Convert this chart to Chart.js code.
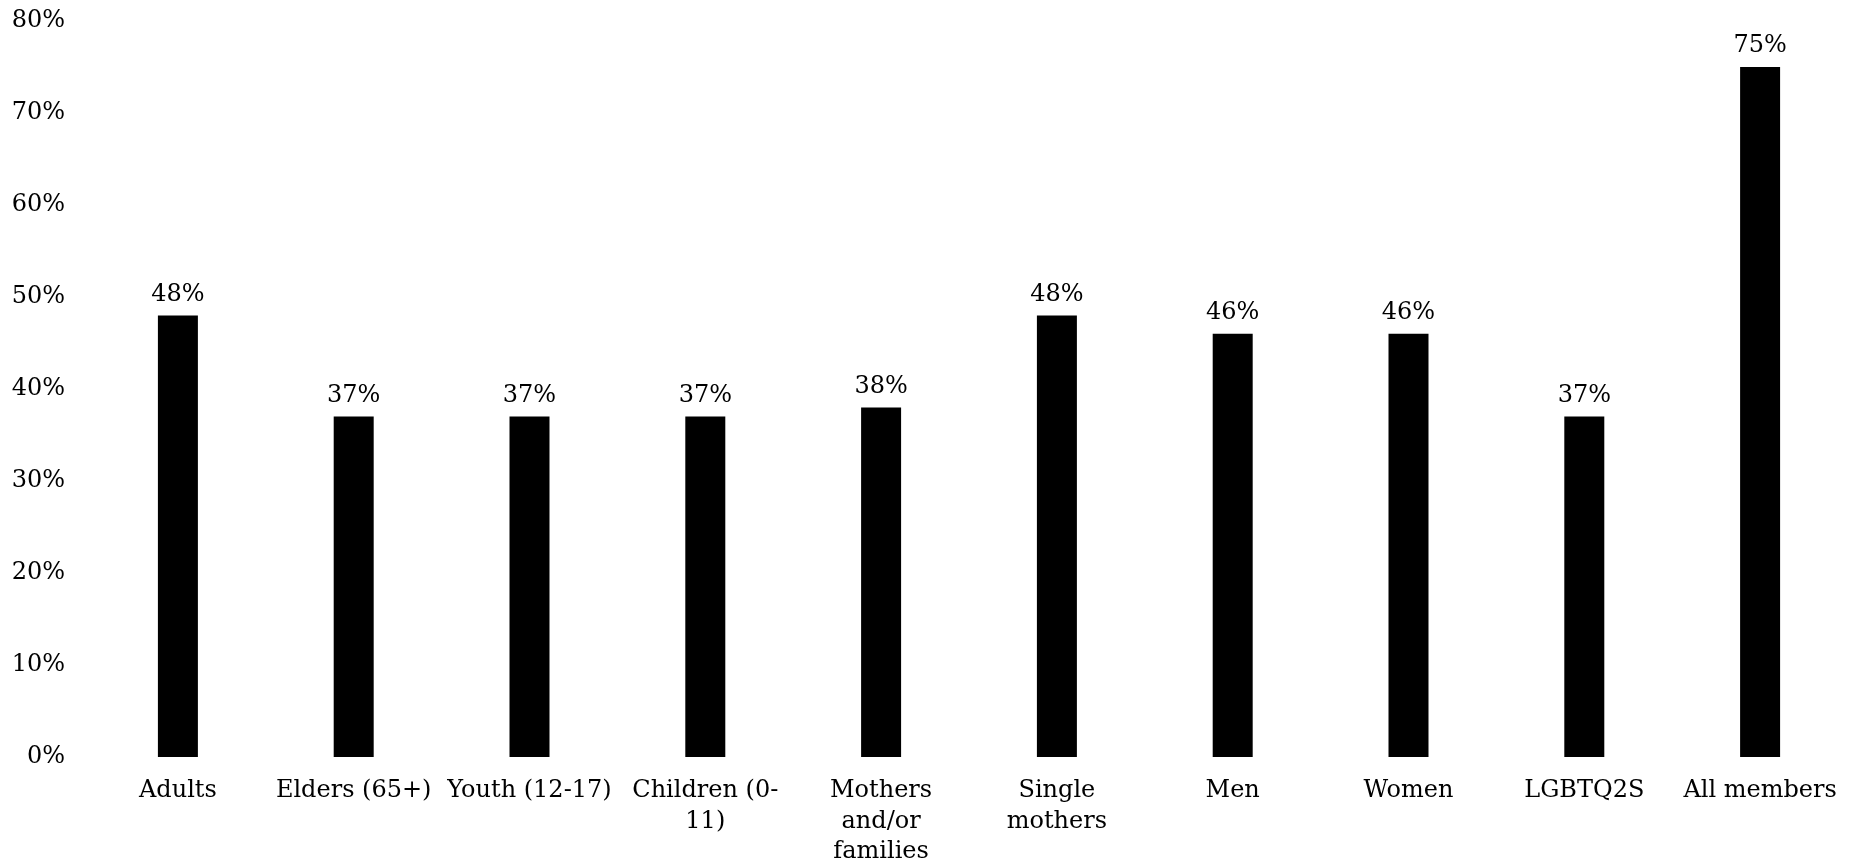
<!DOCTYPE html>
<html lang="en">
<head>
    <meta charset="UTF-8">
    <title>Chart</title>
    <script src="https://cdn.jsdelivr.net/npm/chart.js@4.4.0/dist/chart.umd.min.js"></script>
    <style>
        html, body { margin: 0; padding: 0; background: #fff; }
        .wrap { width: 1860px; height: 863px; }
    </style>
</head>
<body>
    <div class="wrap">
        <canvas id="myChart" width="1860" height="863"></canvas>
    </div>
    <script>
        const categories = [
            "Adults",
            "Elders (65+)",
            "Youth (12-17)",
            ["Children (0-", "11)"],
            ["Mothers", "and/or", "families"],
            ["Single", "mothers"],
            "Men",
            "Women",
            "LGBTQ2S",
            "All members"
        ];
        const values = [48, 37, 37, 37, 38, 48, 46, 46, 37, 75];
        const yTicks = [0, 10, 20, 30, 40, 50, 60, 70, 80];

        const fontFamily = "'DejaVu Serif', serif";

        // draw the % value above each bar
        const valueLabels = {
            id: "valueLabels",
            afterDatasetsDraw(chart) {
                const ctx = chart.ctx;
                const meta = chart.getDatasetMeta(0);
                ctx.save();
                ctx.font = "24px " + fontFamily;
                ctx.fillStyle = "#000";
                ctx.textAlign = "center";
                ctx.textBaseline = "bottom";
                meta.data.forEach(function (bar, i) {
                    ctx.fillText(values[i] + "%", bar.x, bar.y - 9);
                });
                ctx.restore();
            }
        };

        const ctx = document.getElementById("myChart").getContext("2d");
        const myChart = new Chart(ctx, {
            type: "bar",
            data: {
                labels: categories,
                datasets: [{
                    data: values,
                    backgroundColor: "#000",
                    borderWidth: 0,
                    barPercentage: 0.2275,
                    categoryPercentage: 1
                }]
            },
            options: {
                responsive: false,
                animation: false,
                layout: { padding: { top: 21, right: 12, left: 0, bottom: 0 } },
                plugins: {
                    legend: { display: false },
                    tooltip: { enabled: false }
                },
                scales: {
                    x: {
                        grid: { display: false, drawTicks: false },
                        border: { display: false },
                        ticks: {
                            color: "#000",
                            font: { family: fontFamily, size: 24, lineHeight: 1.27 },
                            padding: 19,
                            maxRotation: 0,
                            autoSkip: false
                        },
                        afterFit(scale) { scale.height = 106; }
                    },
                    y: {
                        min: 0,
                        max: 80,
                        grid: { display: false, drawTicks: false },
                        border: { display: false },
                        afterBuildTicks(scale) {
                            scale.ticks = yTicks.map(function (v) { return { value: v }; });
                        },
                        ticks: {
                            color: "#000",
                            font: { family: fontFamily, size: 24 },
                            padding: 25,
                            callback: function (v) { return v + "%"; }
                        },
                        afterFit(scale) {
                            scale.width = 90;
                            scale.paddingTop = 0;
                            scale.paddingBottom = 0;
                        }
                    }
                }
            },
            plugins: [valueLabels]
        });
    </script>
</body>
</html>
